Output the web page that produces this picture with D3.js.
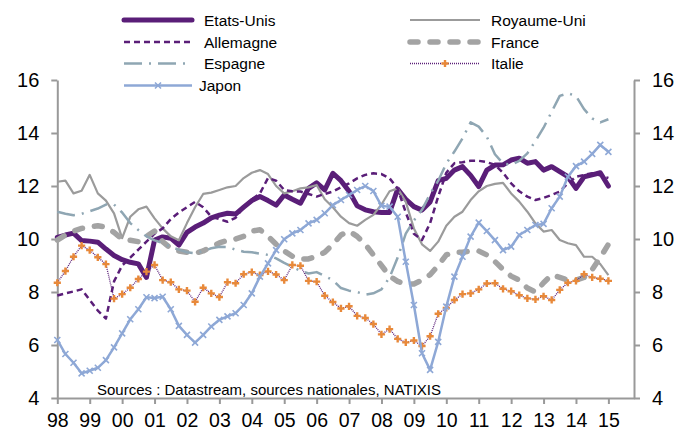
<!DOCTYPE html>
<html lang="fr">
<head>
  <meta charset="UTF-8">
  <title>Taux - comparaison internationale</title>
  <style>
    body {
      margin: 0;
      padding: 0;
      background-color: #fff;
      font-family: "Liberation Sans", Arial, sans-serif;
    }

    .axis path, .axis line {
      stroke: #999;
      stroke-width: 2px;
    }

    .axis text {
      font-size: 20px;
      fill: #000;
      font-family: "Liberation Sans", Arial, sans-serif;
    }

    .axis.x-axis text {
      font-size: 19.5px;
    }

    .legend text {
      font-size: 15.5px;
      fill: #000;
    }

    .source {
      font-size: 15px;
      fill: #000;
    }
  </style>
</head>
<body>
  <div class="chart"></div>

  <script src="https://d3js.org/d3.v7.min.js"></script>
  <script>
    // quarterly values, first quarter 1998 to first quarter 2015
    const startYear = 1998;
    const tickYears = [1998, 1999, 2000, 2001, 2002, 2003, 2004, 2005, 2006,
                       2007, 2008, 2009, 2010, 2011, 2012, 2013, 2014, 2015];
    const tickLabels = ["98", "99", "00", "01", "02", "03", "04", "05", "06",
                        "07", "08", "09", "10", "11", "12", "13", "14", "15"];
    const yTicks = [4, 6, 8, 10, 12, 14, 16];

    const etatsUnis = [10.06, 10.15, 10.22, 9.94, 9.92, 9.88, 9.62, 9.38, 9.22, 9.12,
      9.06, 8.55, 9.96, 10.08, 10.03, 9.77, 10.25, 10.45, 10.60, 10.80,
      10.90, 10.97, 10.94, 11.20, 11.45, 11.60, 11.45, 11.28, 11.66, 11.50,
      11.35, 11.91, 12.12, 11.85, 12.48, 12.20, 11.80, 11.25, 11.10, 11.03,
      11.00, 11.00, 11.88, 11.50, 11.22, 11.09, 11.40, 12.20, 12.29, 12.60,
      12.73, 12.40, 11.98, 12.60, 12.79, 12.80, 12.98, 13.05, 12.86, 12.92,
      12.60, 12.73, 12.54, 12.35, 11.91, 12.35, 12.42, 12.50, 12.00];

    const royaumeUni = [12.16, 12.20, 11.72, 11.82, 12.42, 11.72, 11.45, 10.97, 10.03, 10.84,
      11.12, 11.22, 10.78, 10.40, 10.10, 9.95, 10.60, 11.20, 11.70, 11.75,
      11.85, 11.95, 12.00, 12.30, 12.50, 12.60, 12.45, 12.00, 11.72, 11.80,
      11.91, 11.95, 12.04, 11.50, 11.20, 10.84, 10.60, 10.50, 10.72, 10.91,
      11.30, 11.80, 11.91, 11.40, 10.40, 9.80, 9.55, 9.90, 10.50, 10.84,
      11.03, 11.47, 11.80, 12.00, 12.08, 12.12, 11.72, 11.41, 11.03, 10.59,
      10.28, 10.34, 9.96, 9.84, 9.77, 9.33, 9.33, 9.05, 8.64];

    const allemagne = [7.87, 7.95, 8.02, 8.10, 7.70, 7.30, 7.00, 8.40, 9.00, 9.30,
      9.60, 9.90, 10.20, 10.40, 10.75, 11.00, 11.20, 11.40, 11.20, 10.84,
      10.75, 10.65, 10.80, 11.20, 11.50, 11.72, 12.30, 12.20, 11.85, 11.80,
      11.79, 11.70, 11.60, 11.70, 11.79, 11.95, 12.10, 12.29, 12.42, 12.48,
      12.45, 12.29, 11.90, 11.00, 10.20, 9.96, 10.60, 11.60, 12.50, 12.86,
      12.90, 12.95, 12.95, 12.90, 12.80, 12.50, 12.10, 11.80, 11.60, 11.47,
      11.55, 11.66, 11.79, 12.10, 12.35, 12.42, 12.48, 12.40, 12.30];

    const france = [9.96, 10.15, 10.30, 10.40, 10.45, 10.50, 10.45, 10.25, 10.00, 9.95,
      9.90, 10.10, 10.30, 9.90, 9.65, 9.55, 9.50, 9.46, 9.55, 9.70,
      9.85, 9.95, 10.00, 10.10, 10.30, 10.35, 10.10, 9.80, 9.55, 9.35,
      9.25, 9.25, 9.35, 9.50, 9.80, 10.15, 10.30, 10.10, 9.80, 9.40,
      9.00, 8.60, 8.40, 8.30, 8.30, 8.45, 8.65, 9.00, 9.40, 9.50,
      9.50, 9.55, 9.55, 9.40, 9.15, 8.85, 8.60, 8.45, 8.15, 8.00,
      8.35, 8.65, 8.55, 8.45, 8.45, 8.55, 8.85, 9.30, 9.80];

    const espagne = [11.03, 10.95, 10.90, 10.95, 11.05, 11.15, 11.30, 11.30, 11.00, 10.60,
      10.34, 10.10, 9.95, 9.85, 9.70, 9.60, 9.50, 9.46, 9.55, 9.65,
      9.71, 9.70, 9.60, 9.52, 9.50, 9.45, 9.40, 9.27, 9.10, 8.95,
      8.80, 8.70, 8.75, 8.60, 8.45, 8.15, 8.05, 8.00, 7.90, 7.95,
      8.10, 8.55, 9.30, 10.20, 10.70, 11.10, 11.70, 12.20, 12.85, 13.30,
      13.80, 14.40, 14.24, 13.86, 13.20, 12.85, 12.80, 12.95, 13.23, 13.70,
      14.20, 14.80, 15.40, 15.50, 15.40, 14.90, 14.55, 14.40, 14.52];

    const italie = [8.35, 8.79, 9.33, 9.75, 9.58, 9.31, 9.05, 7.75, 7.92, 8.16,
      8.49, 8.77, 9.02, 8.45, 8.37, 8.10, 8.05, 7.63, 8.16, 7.95,
      7.81, 8.37, 8.33, 8.67, 8.75, 8.64, 8.78, 8.66, 8.45, 9.02,
      8.99, 8.42, 8.39, 7.86, 7.62, 7.38, 7.46, 7.10, 7.02, 6.79,
      6.40, 6.60, 6.23, 6.10, 6.17, 5.96, 6.33, 7.18, 7.40, 7.70,
      7.92, 7.95, 8.10, 8.32, 8.33, 8.12, 8.03, 7.88, 7.76, 7.72,
      7.84, 7.70, 8.08, 8.35, 8.42, 8.67, 8.55, 8.50, 8.42];

    const japon = [6.19, 5.66, 5.33, 4.93, 5.03, 5.14, 5.43, 5.91, 6.44, 6.97,
      7.35, 7.80, 7.77, 7.82, 7.35, 6.72, 6.38, 6.09, 6.38, 6.70,
      6.95, 7.08, 7.20, 7.51, 7.95, 8.58, 9.08, 9.58, 9.99, 10.21,
      10.34, 10.59, 10.72, 10.97, 11.28, 11.47, 11.66, 11.85, 12.00, 11.81,
      11.25, 11.22, 10.84, 9.14, 7.51, 5.69, 5.06, 6.12, 7.45, 8.58,
      9.33, 10.09, 10.62, 10.30, 9.96, 9.58, 9.71, 10.15, 10.34, 10.53,
      10.57, 11.16, 11.60, 12.35, 12.75, 12.92, 13.21, 13.55, 13.29];

    const seriesNames = ["Etats-Unis", "Royaume-Uni", "Allemagne", "France", "Espagne", "Italie", "Japon"];
    const seriesValues = [etatsUnis, royaumeUni, allemagne, france, espagne, italie, japon];

    // drawing styles
    const purple = "#5a1e78";
    const styles = {
      "Etats-Unis":  { color: purple, width: 5, dash: null, cap: "round" },
      "Royaume-Uni": { color: "#9b9b9b", width: 2.2, dash: null, cap: "butt" },
      "Allemagne":   { color: purple, width: 2.5, dash: "6,4", cap: "butt" },
      "France":      { color: "#a3a3a3", width: 5.5, dash: "8,12", cap: "round" },
      "Espagne":     { color: "#8fa6b3", width: 2.5, dash: "18,7,2,7", cap: "butt" },
      "Italie":      { color: purple, width: 1.3, dash: "1,1", cap: "butt", marker: "plus" },
      "Japon":       { color: "#8ea8d6", width: 2.5, dash: null, cap: "butt", marker: "cross" }
    };
    const orange = "#e8893a";

    const W = 692, H = 432;
    const plot = { left: 57.3, right: 634, top: 80, bottom: 398 };

    const svg = d3.select(".chart")
      .append("svg")
        .attr("width", W)
        .attr("height", H);

    // Scales
    const xScale = d3.scaleLinear()
      .domain([1998, 2015.79])
      .range([plot.left, plot.right]);

    const yScale = d3.scaleLinear()
      .domain([4, 16])
      .range([plot.bottom, plot.top]);

    // Axes
    svg.append("g")
      .attr("class", "axis x-axis")
      .attr("transform", `translate(0,${plot.bottom})`)
      .call(d3.axisBottom(xScale)
        .tickValues(tickYears)
        .tickFormat((d, i) => tickLabels[i])
        .tickSizeInner(6).tickSizeOuter(0).tickPadding(9.5));

    svg.append("g")
      .attr("class", "axis")
      .attr("transform", `translate(${plot.left},0)`)
      .call(d3.axisLeft(yScale).tickValues(yTicks)
        .tickSizeInner(6).tickSizeOuter(0).tickPadding(12));

    svg.append("g")
      .attr("class", "axis")
      .attr("transform", `translate(${plot.right},0)`)
      .call(d3.axisRight(yScale).tickValues(yTicks)
        .tickSizeInner(6).tickSizeOuter(0).tickPadding(12));

    // Source note
    svg.append("text")
      .attr("class", "source")
      .attr("x", 97)
      .attr("y", 395)
      .text("Sources : Datastream, sources nationales, NATIXIS");

    const crossPath = s => `M${-s},${-s}L${s},${s}M${-s},${s}L${s},${-s}`;
    const plusPath = s => `M${-s},0L${s},0M0,${-s}L0,${s}`;

    function drawMarkers(g, pts, type) {
      g.selectAll("path.mk")
        .data(pts)
        .join("path")
          .attr("class", "mk")
          .attr("transform", d => `translate(${d[0]},${d[1]})`)
          .attr("d", type === "plus" ? plusPath(3.6) : crossPath(3))
          .attr("fill", "none")
          .attr("stroke", type === "plus" ? orange : styles["Japon"].color)
          .attr("stroke-width", type === "plus" ? 2.4 : 1.6);
    }

    const lineGen = d3.line()
      .x(d => xScale(d.t))
      .y(d => yScale(d.v));

    // Series
    seriesNames.forEach((name, k) => {
      const st = styles[name];
      const data = seriesValues[k].map((v, i) => ({ t: startYear + i / 4, v: v }));
      const g = svg.append("g");
      g.append("path")
        .datum(data)
        .attr("d", lineGen)
        .attr("fill", "none")
        .attr("stroke", st.color)
        .attr("stroke-width", st.width)
        .attr("stroke-linejoin", "round")
        .attr("stroke-linecap", st.cap)
        .attr("stroke-dasharray", st.dash);
      if (st.marker) {
        drawMarkers(g, data.map(d => [xScale(d.t), yScale(d.v)]), st.marker);
      }
    });

    // Legend
    const legendLeft = ["Etats-Unis", "Allemagne", "Espagne", "Japon"];
    const legendRight = ["Royaume-Uni", "France", "Italie"];
    const rowY = [20, 42, 63.5, 85.5];
    const legend = svg.append("g").attr("class", "legend");

    function legendItem(name, x0, x1, tx, y) {
      const st = styles[name];
      legend.append("line")
        .attr("x1", x0).attr("x2", x1)
        .attr("y1", y).attr("y2", y)
        .attr("stroke", st.color)
        .attr("stroke-width", st.width)
        .attr("stroke-linecap", st.cap)
        .attr("stroke-dasharray", st.dash);
      if (st.marker) {
        const mg = legend.append("g");
        drawMarkers(mg, [[(x0 + x1) / 2, y]], st.marker);
      }
      legend.append("text")
        .attr("x", tx)
        .attr("y", y + 5.5)
        .text(name);
    }

    legendLeft.forEach((name, i) => {
      legendItem(name, 124, 192, name === "Japon" ? 199 : 204, rowY[i]);
    });
    legendRight.forEach((name, i) => {
      legendItem(name, 410, 480, 491, rowY[i]);
    });
  </script>
</body>
</html>
